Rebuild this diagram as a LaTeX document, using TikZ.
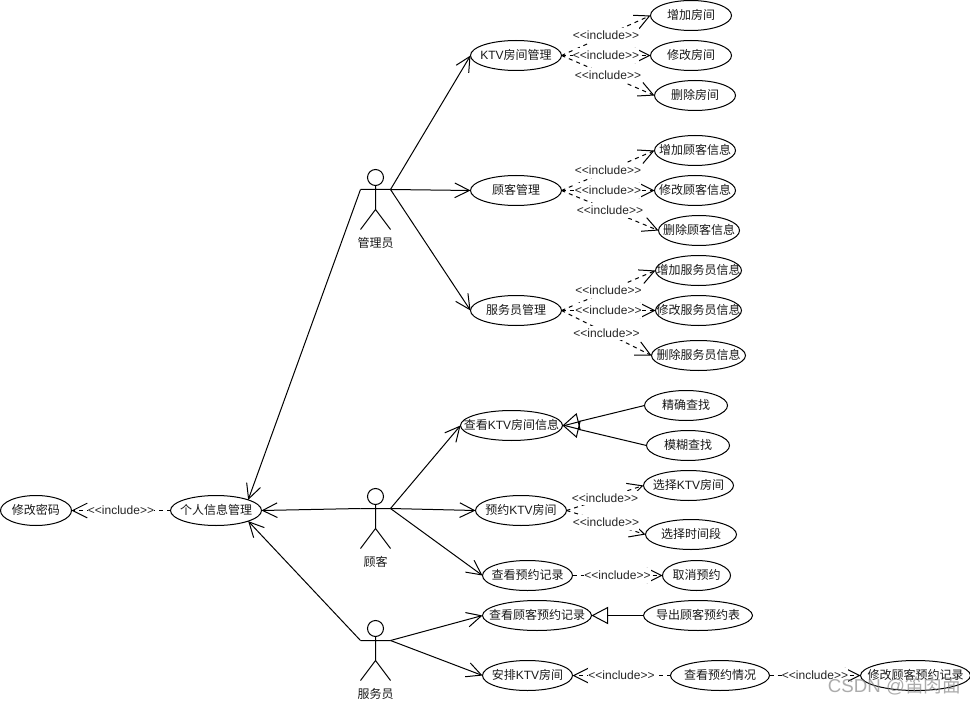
\documentclass[tikz,border=0pt]{standalone}
\usepackage{fontspec}
\setmainfont{Liberation Sans}
\newfontfamily\cjk{Noto Sans CJK SC}
\usetikzlibrary{shapes.geometric,arrows.meta}
\newcommand\uct[1]{\makebox[0pt]{\smash{\raisebox{-3.1pt}{#1}}}}
\newcommand\inctext{<{}<include>{}>}
\newcommand\actorfig[4]{%
  \node[circle,draw,line width=.75pt,minimum size=12pt,inner sep=0pt,outer sep=0pt] (#1) at (#2,#3) {};
  \coordinate (#1-l) at (#2-15,#3+12);
  \coordinate (#1-r) at (#2+15,#3+12);
  \coordinate (#1-w) at (#2,#3+32);
  \coordinate (#1-f1) at (#2-15,#3+52);
  \coordinate (#1-f2) at (#2+15,#3+52);
  \node[font=\cjk\fontsize{9}{11}\selectfont,inner sep=0pt,text=black!90] (#1-t) at (#2,#3+65) {#4};
  \draw[line width=.75pt] (#1.south) -- (#1-w) (#1-l) -- (#1-r) (#1-f1) -- (#1-w) -- (#1-f2);
}
\begin{document}
\begin{tikzpicture}[x=0.75pt,y=-0.75pt,
  uc/.style={ellipse,draw,line width=.75pt,inner sep=0pt,outer sep=0pt,minimum width=68.25pt,minimum height=22.5pt,font=\fontsize{9}{11}\selectfont,text=black!90},
  assoc/.style={line width=.75pt,-{Straight Barb[length=11pt,width=11pt,line width=.75pt]}},
  gen/.style={line width=.75pt,-{Triangle[open,length=12.5pt,width=13pt,line width=.75pt]}},
  inc/.style={line width=.75pt,dash pattern=on 3pt off 3pt,-{Straight Barb[length=11pt,width=11pt,line width=.75pt]}},
  lbl/.style={fill=white,inner xsep=0pt,inner ysep=.75pt,text height=7.75pt,text depth=1.75pt,font=\fontsize{9}{11}\selectfont,text=black!85,midway}]
\useasboundingbox (0,0) rectangle (970,702);
\fill[white] (0,0) rectangle (970,702);
\begin{scope}[shift={(0.5,0.5)}]

% use cases
\node[uc] (ktv) at (515.5,55) {\uct{KTV{\cjk 房间管理}}};
\node[uc,minimum width=60.75pt] (u1) at (690.5,15) {\uct{\cjk 增加房间}};
\node[uc,minimum width=60.75pt] (u2) at (690.5,55) {\uct{\cjk 修改房间}};
\node[uc,minimum width=60.75pt] (u3) at (694.5,95) {\uct{\cjk 删除房间}};
\node[uc] (cus) at (515.5,190) {\uct{\cjk 顾客管理}};
\node[uc,minimum width=60.75pt] (c1) at (694.5,150) {\uct{\cjk 增加顾客信息}};
\node[uc,minimum width=60.75pt] (c2) at (694.5,190) {\uct{\cjk 修改顾客信息}};
\node[uc,minimum width=60.75pt] (c3) at (698.5,230) {\uct{\cjk 删除顾客信息}};
\node[uc] (sta) at (515.5,310) {\uct{\cjk 服务员管理}};
\node[uc,minimum width=64.5pt] (s1) at (698,270) {\uct{\cjk 增加服务员信息}};
\node[uc,minimum width=64.5pt] (s2) at (698,310) {\uct{\cjk 修改服务员信息}};
\node[uc,minimum width=70.5pt] (s3) at (698,355) {\uct{\cjk 删除服务员信息}};
\node[uc,minimum width=76.5pt] (q) at (511,425) {\uct{{\cjk 查看}KTV{\cjk 房间信息}}};
\node[uc,minimum width=62.25pt] (q1) at (685.5,405) {\uct{\cjk 精确查找}};
\node[uc,minimum width=62.25pt] (q2) at (687.5,445) {\uct{\cjk 模糊查找}};
\node[uc] (b) at (520.5,510) {\uct{{\cjk 预约}KTV{\cjk 房间}}};
\node[uc,minimum width=67.5pt] (b1) at (688,485) {\uct{{\cjk 选择}KTV{\cjk 房间}}};
\node[uc] (b2) at (690.5,534) {\uct{\cjk 选择时间段}};
\node[uc,minimum width=67.5pt] (r) at (527,575) {\uct{\cjk 查看预约记录}};
\node[uc,minimum width=51pt] (r1) at (696,575) {\uct{\cjk 取消预约}};
\node[uc,minimum width=81.75pt] (v) at (536.5,615) {\uct{\cjk 查看顾客预约记录}};
\node[uc,minimum width=81.75pt] (v1) at (697.5,615) {\uct{\cjk 导出顾客预约表}};
\node[uc,minimum width=67.5pt] (a) at (527,675) {\uct{{\cjk 安排}KTV{\cjk 房间}}};
\node[uc,minimum width=74.25pt] (a1) at (719.5,675) {\uct{\cjk 查看预约情况}};
\node[uc,minimum width=82.5pt] (a2) at (915,675) {\uct{\cjk 修改顾客预约记录}};
\node[uc,minimum width=53.25pt] (pw) at (35.5,510) {\uct{\cjk 修改密码}};
\node[uc] (me) at (215.5,510) {\uct{\cjk 个人信息管理}};

% actors
\actorfig{adm}{375}{177}{管理员}
\actorfig{gst}{375}{496}{顾客}
\actorfig{srv}{375}{628}{服务员}

% associations
\draw[assoc] (adm-r) -- (ktv.west);
\draw[assoc] (adm-r) -- (cus.west);
\draw[assoc] (adm-r) -- (sta.west);
\draw[assoc] (adm-l) -- (me.north east);
\draw[assoc] (gst-l) -- (me.east);
\draw[assoc] (srv-l) -- (me.south east);
\draw[assoc] (gst-r) -- (q.west);
\draw[assoc] (gst-r) -- (b.west);
\draw[assoc] (gst-r) -- (r.west);
\draw[assoc] (srv-r) -- (v.west);
\draw[assoc] (srv-r) -- (a.west);

% generalisation
\draw[gen] (q1.west) -- (q.east);
\draw[gen] (q2.west) -- (q.east);
\draw[gen] (v1.west) -- (v.east);

% includes
\draw[inc] (ktv.east) -- (u1.west) node[lbl] {\inctext};
\draw[inc] (ktv.east) -- (u2.west) node[lbl] {\inctext};
\draw[inc] (ktv.east) -- (u3.west) node[lbl] {\inctext};
\draw[inc] (cus.east) -- (c1.west) node[lbl] {\inctext};
\draw[inc] (cus.east) -- (c2.west) node[lbl] {\inctext};
\draw[inc] (cus.east) -- (c3.west) node[lbl] {\inctext};
\draw[inc] (sta.east) -- (s1.west) node[lbl] {\inctext};
\draw[inc] (sta.east) -- (s2.west) node[lbl] {\inctext};
\draw[inc] (sta.east) -- (s3.west) node[lbl] {\inctext};
\draw[inc] (b.east) -- (b1.west) node[lbl] {\inctext};
\draw[inc] (b.east) -- (b2.west) node[lbl] {\inctext};
\draw[inc] (r.east) -- (r1.west) node[lbl] {\inctext};
\draw[inc] (a1.west) -- (a.east) node[lbl] {\inctext};
\draw[inc] (a1.east) -- (a2.west) node[lbl] {\inctext};
\draw[inc] (me.west) -- (pw.east) node[lbl] {\inctext};

% watermark
\node[font=\fontsize{14}{16}\selectfont,text=gray,opacity=.65,inner sep=0pt] (wm) at (894,685) {CSDN @{\cjk 笛肉面}};
\end{scope}
\end{tikzpicture}
\end{document}
